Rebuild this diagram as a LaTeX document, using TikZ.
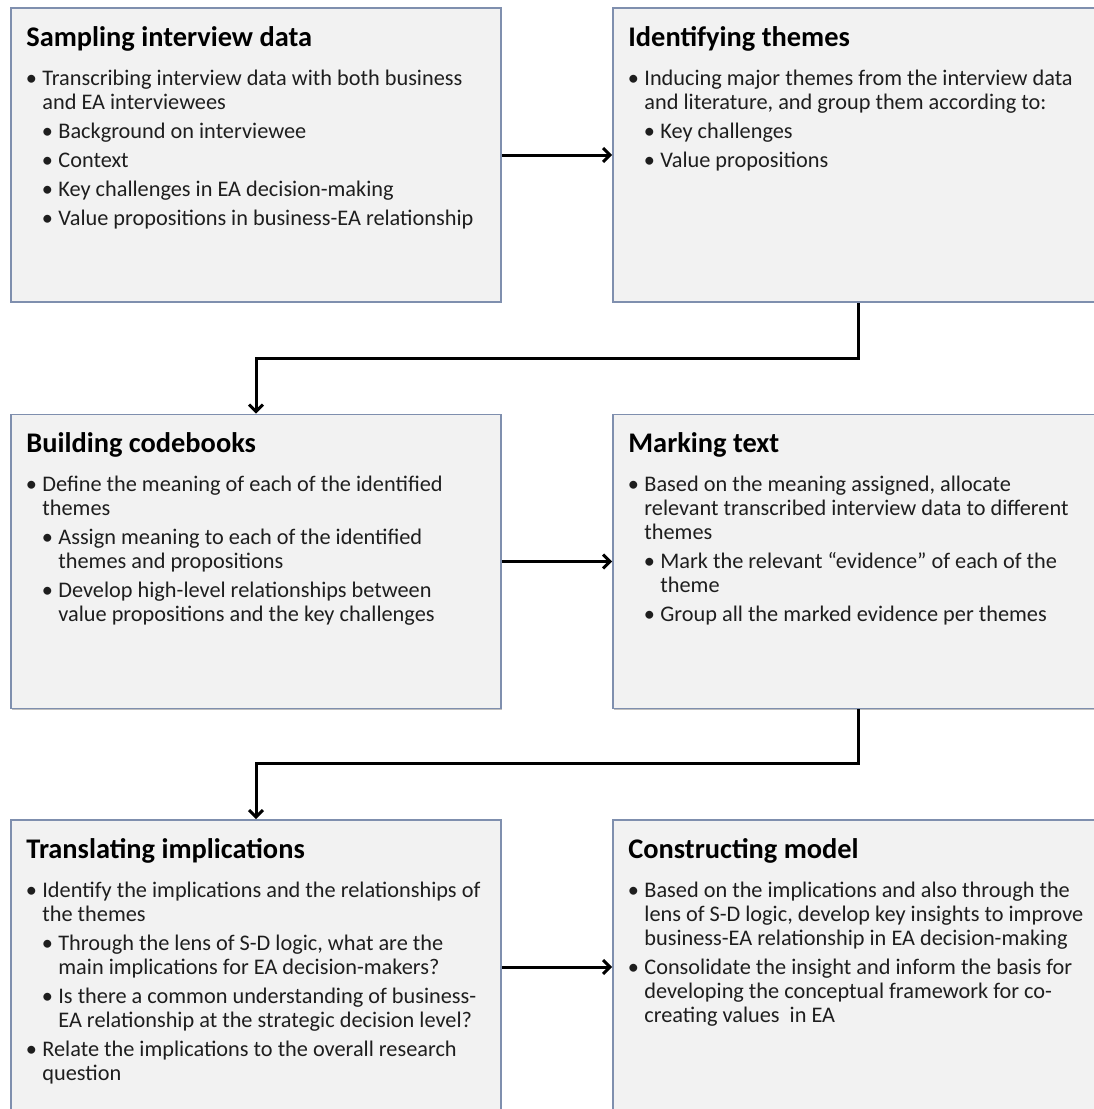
\documentclass[tikz,border=0pt]{standalone}
\usepackage{fontspec}
\setmainfont{Carlito}
\usetikzlibrary{arrows.meta,calc,shadows}

\definecolor{boxfill}{RGB}{242,242,242}
\definecolor{boxline}{RGB}{127,143,174}
\definecolor{bodytext}{RGB}{30,30,30}

% bullet lists with hanging indents
\newcommand\bulletmark{\makebox[14pt][l]{\hspace*{-2.5pt}\textbullet}}
\newcommand\bitem[1]{\par\noindent\hangindent=14pt\hangafter=1\bulletmark#1\par}
\newcommand\sitem[1]{\par\noindent\hangindent=30pt\hangafter=1\hspace*{16pt}\bulletmark#1\par}
\newcommand\bodylist[1]{\begin{minipage}[t]{480pt}\fontsize{22.3pt}{24pt}\selectfont\setlength\parskip{5pt}#1\end{minipage}}

\tikzset{
  stagebox/.style={draw=boxline, line width=1.6pt, fill=boxfill,
    minimum width=490pt, minimum height=294pt, inner sep=0pt,
    drop shadow={shadow xshift=0.8pt, shadow yshift=-1.2pt, fill=black, opacity=0.25}},
  stagetitle/.style={anchor=base west, inner sep=0pt, font=\fontsize{28.4pt}{32pt}\selectfont\bfseries},
  stagebody/.style={anchor=base west, inner sep=0pt, text=bodytext},
  flow/.style={line width=3pt, -{Straight Barb[length=7pt,width=14pt]}},
}

\begin{document}
\begin{tikzpicture}[x=1pt,y=-1pt]
\useasboundingbox (0,0) rectangle (1094,1109);
\clip (0,0) rectangle (1094,1109);
\fill[white] (0,0) rectangle (1094,1109);

% boxes
\node[stagebox] (s1) at (256,155) {};
\node[stagebox] (s2) at (858,155) {};
\node[stagebox] (s3) at (256,561.5) {};
\node[stagebox] (s4) at (858,561.5) {};
\node[stagebox] (s5) at (256,967) {};
\node[stagebox] (s6) at (858,967) {};

% titles
\node[stagetitle] (t1) at ($(s1.north west)+(16,39)$) {Sampling interview data};
\node[stagetitle] (t2) at ($(s2.north west)+(16,39)$) {Identifying themes};
\node[stagetitle] (t3) at ($(s3.north west)+(16,39)$) {Building codebooks};
\node[stagetitle] (t4) at ($(s4.north west)+(16,39)$) {Marking text};
\node[stagetitle] (t5) at ($(s5.north west)+(16,39)$) {Translating implications};
\node[stagetitle] (t6) at ($(s6.north west)+(16,39)$) {Constructing model};

% bodies
\node[stagebody] (b1) at ($(s1.north west)+(18,78)$) {\bodylist{%
  \bitem{Transcribing interview data with both business\newline and EA interviewees}
  \sitem{Background on interviewee}
  \sitem{Context}
  \sitem{Key challenges in EA decision-making}
  \sitem{Value propositions in business-EA relationship}}};

\node[stagebody] (b2) at ($(s2.north west)+(18,78)$) {\bodylist{%
  \bitem{Inducing major themes from the interview data\newline and literature, and group them according to:}
  \sitem{Key challenges}
  \sitem{Value propositions}}};

\node[stagebody] (b3) at ($(s3.north west)+(18,78)$) {\bodylist{%
  \bitem{Define the meaning of each of the identified\newline themes}
  \sitem{Assign meaning to each of the identified\newline themes and propositions}
  \sitem{Develop high-level relationships between\newline value propositions and the key challenges}}};

\node[stagebody] (b4) at ($(s4.north west)+(18,78)$) {\bodylist{%
  \bitem{Based on the meaning assigned, allocate\newline relevant transcribed interview data to different\newline themes}
  \sitem{Mark the relevant “evidence” of each of the\newline theme}
  \sitem{Group all the marked evidence per themes}}};

\node[stagebody] (b5) at ($(s5.north west)+(18,78)$) {\bodylist{%
  \bitem{Identify the implications and the relationships of\newline the themes}
  \sitem{Through the lens of S-D logic, what are the\newline main implications for EA decision-makers?}
  \sitem{Is there a common understanding of business-\newline EA relationship at the strategic decision level?}
  \bitem{Relate the implications to the overall research\newline question}}};

\node[stagebody] (b6) at ($(s6.north west)+(18,78)$) {\bodylist{%
  \bitem{Based on the implications and also through the\newline lens of S-D logic, develop key insights to improve\newline business-EA relationship in EA decision-making}
  \bitem{Consolidate the insight and inform the basis for\newline developing the conceptual framework for co-\newline creating values~ in EA}}};

% connectors
\coordinate (k1) at (858,358);
\coordinate (k2) at (858,763);
\draw[flow] (s1.east) -- (s2.west);
\draw[flow] (s2.south) -- (k1) -| (s3.north);
\draw[flow] (s3.east) -- (s4.west);
\draw[flow] (s4.south) -- (k2) -| (s5.north);
\draw[flow] (s5.east) -- (s6.west);
\end{tikzpicture}
\end{document}
